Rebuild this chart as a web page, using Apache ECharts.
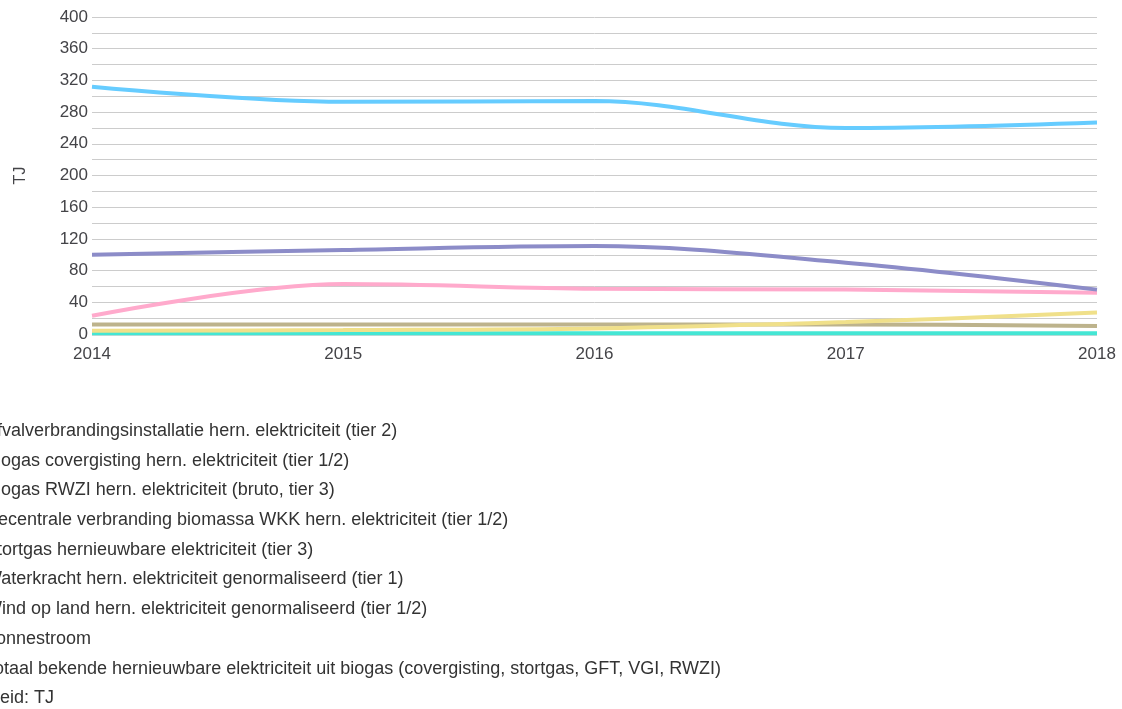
<!DOCTYPE html>
<html>
<head>
<meta charset="utf-8">
<script src="https://cdn.jsdelivr.net/npm/echarts@6/dist/echarts.min.js"></script>
<style>
  html, body { margin: 0; padding: 0; background: #fff; }
  #chart { width: 1122px; height: 709px; }
</style>
</head>
<body>
<div id="chart"></div>
<script>
// Jaren op de x-as
const years = ['2014', '2015', '2016', '2017', '2018'];

// Reeksnamen (legendavolgorde)
const seriesNames = [
  'Afvalverbrandingsinstallatie hern. elektriciteit (tier 2)',
  'Biogas covergisting hern. elektriciteit (tier 1/2)',
  'Biogas RWZI hern. elektriciteit (bruto, tier 3)',
  'Decentrale verbranding biomassa WKK hern. elektriciteit (tier 1/2)',
  'Stortgas hernieuwbare elektriciteit (tier 3)',
  'Waterkracht hern. elektriciteit genormaliseerd (tier 1)',
  'Wind op land hern. elektriciteit genormaliseerd (tier 1/2)',
  'Zonnestroom',
  'Totaal bekende hernieuwbare elektriciteit uit biogas (covergisting, stortgas, GFT, VGI, RWZI)'
];

// Waarden in TJ per reeks
const afval        = [0, 0, 0, 0, 0];
const covergisting = [23, 63, 57, 56, 52];
const rwzi         = [12, 12, 12, 12, 10];
const decentraal   = [0, 0, 0, 0, 0];
const stortgas     = [0, 0, 0, 0, 0];
const waterkracht  = [1, 1, 1, 1, 1];
const windOpLand   = [312, 293, 294, 260, 267];
const zonnestroom  = [4, 5, 7, 15, 27];
const totaalBiogas = [100, 106, 111, 90, 56];

const seriesValues = [afval, covergisting, rwzi, decentraal, stortgas, waterkracht, windOpLand, zonnestroom, totaalBiogas];
const seriesColors = ['#dddddd', '#ffaacc', '#bdb38c', '#cccccc', '#d8d8d8', '#44e6d4', '#66ccff', '#f0e08a', '#8c8cc8'];

// Aslabels
const yTicks = [0, 40, 80, 120, 160, 200, 240, 280, 320, 360, 400];
const unitText = 'Eenheid: TJ';

const chart = echarts.init(document.getElementById('chart'), null, { renderer: 'canvas' });

const font = 'Arial, "Liberation Sans", sans-serif';
const textColor = '#444448';

chart.setOption({
  animation: false,
  backgroundColor: '#ffffff',
  textStyle: { fontFamily: font },
  grid: { left: 92, right: 25, top: 17, bottom: 375, containLabel: false },
  xAxis: {
    type: 'category',
    data: years,
    boundaryGap: false,
    axisLine: { show: false },
    axisTick: { show: false },
    axisLabel: { color: textColor, fontSize: 17, fontFamily: font, margin: 12 },
    splitLine: { show: false }
  },
  yAxis: {
    type: 'value',
    min: 0,
    max: 400,
    interval: 20,
    name: 'TJ',
    nameLocation: 'middle',
    nameRotate: 90,
    nameGap: 63.5,
    nameTextStyle: { color: textColor, fontSize: 16, fontFamily: font },
    axisLine: { show: false },
    axisTick: { show: false },
    axisLabel: {
      color: textColor, fontSize: 17, fontFamily: font, margin: 4,
      formatter: v => (yTicks.indexOf(v) >= 0 ? String(v) : '')
    },
    splitLine: { lineStyle: { color: '#cccccc', width: 1 } }
  },
  legend: {
    orient: 'vertical',
    left: -49,
    top: 416,
    itemWidth: 24,
    itemHeight: 20,
    itemGap: 9.7,
    icon: 'rect',
    textStyle: { color: '#333', fontSize: 18, lineHeight: 20, fontFamily: font },
    data: seriesNames
  },
  graphic: [{
    type: 'text',
    left: -42,
    top: 689,
    style: { text: unitText, fill: '#333', font: '18px ' + font }
  }],
  series: seriesNames.map((name, i) => ({
    name: name,
    type: 'line',
    data: seriesValues[i],
    smooth: 0.35,
    showSymbol: false,
    symbol: 'none',
    lineStyle: { width: 4, color: seriesColors[i] },
    itemStyle: { color: seriesColors[i] }
  }))
});
</script>
</body>
</html>
